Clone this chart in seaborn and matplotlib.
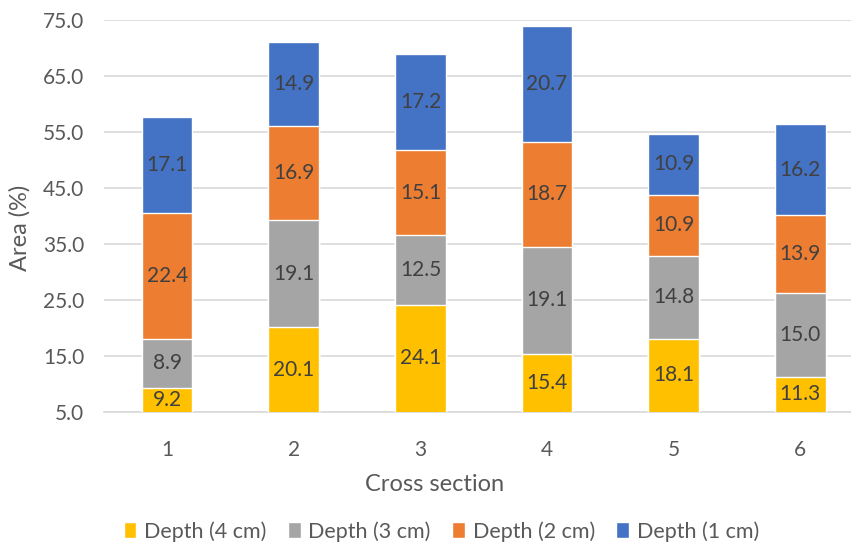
import numpy as np
import pandas as pd
import matplotlib
matplotlib.use("Agg")
import matplotlib.pyplot as plt
import seaborn as sns

# Data
sections = ["1", "2", "3", "4", "5", "6"]
depth_4 = [9.2, 20.1, 24.1, 15.4, 18.1, 11.3]
depth_3 = [8.9, 19.1, 12.5, 19.1, 14.8, 15.0]
depth_2 = [22.4, 16.9, 15.1, 18.7, 10.9, 13.9]
depth_1 = [17.1, 14.9, 17.2, 20.7, 10.9, 16.2]

series_names = ["Depth (4 cm)", "Depth (3 cm)", "Depth (2 cm)", "Depth (1 cm)"]
series_vals = [depth_4, depth_3, depth_2, depth_1]
colors = ["#FFC000", "#A5A5A5", "#ED7D31", "#4472C4"]

Y_MIN, Y_MAX = 5, 75

sns.set_style("white")
plt.rcParams["font.family"] = ["Lato", "DejaVu Sans"]

fig = plt.figure(figsize=(8.51, 5.42), dpi=100)
ax = fig.add_axes([0.122, 0.240, 0.878, 0.723])

df = pd.DataFrame(dict(zip(series_names, series_vals)), index=sections)
cum = df.cumsum(axis=1)
bottoms = cum - df

# draw tallest cumulative first so lower segments sit on top
for name, col in reversed(list(zip(series_names, colors))):
    sns.barplot(x=sections, y=cum[name].values, color=col, width=0.4,
                saturation=1, ax=ax, label=name, zorder=3)

# data labels centred in the visible part of each segment
for name in series_names:
    for i, sec in enumerate(sections):
        lo = max(bottoms.loc[sec, name], Y_MIN)
        hi = cum.loc[sec, name]
        ax.text(i, (lo + hi) / 2, f"{df.loc[sec, name]:.1f}", ha="center",
                va="center", fontsize=15, color="#404040", zorder=5)

ax.set_ylim(Y_MIN, Y_MAX)
ax.set_xlim(-0.5, 5.4)
ax.set_yticks(np.arange(5, 76, 10))
ax.set_yticklabels([f"{v:.1f}" for v in np.arange(5, 76, 10)])
ax.yaxis.grid(True, color="#D9D9D9", linewidth=1.2, zorder=0)
ax.set_axisbelow(True)
for s in ["top", "right", "left"]:
    ax.spines[s].set_visible(False)
ax.spines["bottom"].set_color("#D9D9D9")
ax.spines["bottom"].set_linewidth(1.2)
ax.tick_params(axis="both", length=0, labelsize=15, labelcolor="#595959")
ax.tick_params(axis="x", pad=20)
ax.tick_params(axis="y", pad=14)

ax.set_xlabel("Cross section", fontsize=17, color="#595959", va="center")
ax.xaxis.set_label_coords(0.442, -0.184)
ax.set_ylabel("Area (%)", fontsize=17, color="#595959", va="center")
ax.yaxis.set_label_coords(-0.112, 0.47)

handles, labels = ax.get_legend_handles_labels()
order = [labels.index(n) for n in series_names]
ax.legend([handles[k] for k in order], series_names, loc="center left",
          bbox_to_anchor=(0.012, -0.305), ncol=4, frameon=False, fontsize=15.5,
          labelcolor="#595959", handlelength=0.6, handleheight=0.8,
          handletextpad=0.35, columnspacing=1.0, borderpad=0)

fig.savefig("out.png", dpi=100)
plt.close(fig)
